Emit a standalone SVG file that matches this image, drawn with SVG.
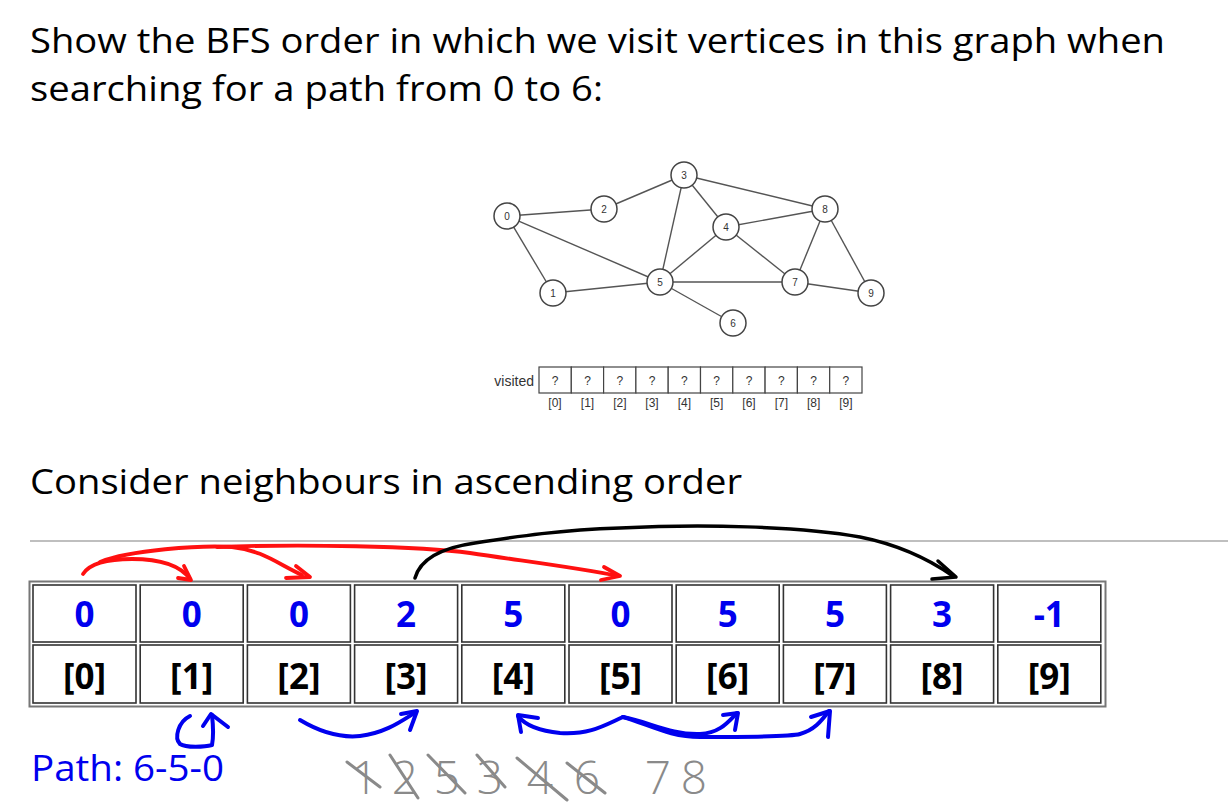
<svg xmlns="http://www.w3.org/2000/svg" width="1228" height="810" viewBox="0 0 1228 810">
<style>
.h{font-family:"Open Sans","Noto Sans","Liberation Sans",sans-serif;font-size:35px;fill:#000}
.edge{stroke:#555;stroke-width:1.4;fill:none}
.node circle{fill:#fff;stroke:#444;stroke-width:1.5}
.node text{font-family:"Liberation Sans",Arial,sans-serif;font-size:10px;fill:#333;text-anchor:middle}
.vis{font-family:"Liberation Sans",Arial,sans-serif;fill:#333}
.vc{fill:#fff;stroke:#444;stroke-width:1.2}
.cell{fill:#fff;stroke:#333;stroke-width:1.6}
.val{font-family:"Noto Sans","Open Sans","Liberation Sans",sans-serif;font-weight:bold;font-size:35px;fill:#0000ee;text-anchor:middle}
.idx{font-family:"Noto Sans","Open Sans","Liberation Sans",sans-serif;font-weight:bold;font-size:35px;fill:#000;text-anchor:middle}
.red{stroke:#ff1010;stroke-width:3.8;fill:none;stroke-linecap:round;stroke-linejoin:round}
.blk{stroke:#000;stroke-width:3.5;fill:none;stroke-linecap:round;stroke-linejoin:round}
.blu{stroke:#0000ee;stroke-width:4;fill:none;stroke-linecap:round;stroke-linejoin:round}
.scr{font-family:"Open Sans","DejaVu Sans",sans-serif;font-weight:300;font-size:46px;fill:#8a8a8a;text-anchor:middle}
.strk{stroke:#8a8a8a;stroke-width:3;stroke-linecap:round;fill:none}
</style>
<rect width="1228" height="810" fill="#fff"/>

<text class="h" x="30" y="53" textLength="1135" lengthAdjust="spacingAndGlyphs">Show the BFS order in which we visit vertices in this graph when</text>
<text class="h" x="30" y="101" textLength="573" lengthAdjust="spacingAndGlyphs">searching for a path from 0 to 6:</text>

<g id="graph-edges">
<line class="edge" x1="507" y1="216" x2="604" y2="209"/>
<line class="edge" x1="507" y1="216" x2="553" y2="293"/>
<line class="edge" x1="507" y1="216" x2="660" y2="282"/>
<line class="edge" x1="604" y1="209" x2="684" y2="175"/>
<line class="edge" x1="684" y1="175" x2="660" y2="282"/>
<line class="edge" x1="684" y1="175" x2="726" y2="227"/>
<line class="edge" x1="684" y1="175" x2="825" y2="209"/>
<line class="edge" x1="726" y1="227" x2="825" y2="209"/>
<line class="edge" x1="726" y1="227" x2="660" y2="282"/>
<line class="edge" x1="726" y1="227" x2="795" y2="282"/>
<line class="edge" x1="825" y1="209" x2="795" y2="282"/>
<line class="edge" x1="825" y1="209" x2="871" y2="293"/>
<line class="edge" x1="553" y1="293" x2="660" y2="282"/>
<line class="edge" x1="660" y1="282" x2="795" y2="282"/>
<line class="edge" x1="660" y1="282" x2="733" y2="323"/>
<line class="edge" x1="795" y1="282" x2="871" y2="293"/>
</g>
<g id="n0" class="node"><circle cx="507" cy="216" r="13"/><text x="507" y="220">0</text></g>
<g id="n1" class="node"><circle cx="553" cy="293" r="13"/><text x="553" y="297">1</text></g>
<g id="n2" class="node"><circle cx="604" cy="209" r="13"/><text x="604" y="213">2</text></g>
<g id="n3" class="node"><circle cx="684" cy="175" r="13"/><text x="684" y="179">3</text></g>
<g id="n4" class="node"><circle cx="726" cy="227" r="13"/><text x="726" y="231">4</text></g>
<g id="n5" class="node"><circle cx="660" cy="282" r="13"/><text x="660" y="286">5</text></g>
<g id="n6" class="node"><circle cx="733" cy="323" r="13"/><text x="733" y="327">6</text></g>
<g id="n7" class="node"><circle cx="795" cy="282" r="13"/><text x="795" y="286">7</text></g>
<g id="n8" class="node"><circle cx="825" cy="209" r="13"/><text x="825" y="213">8</text></g>
<g id="n9" class="node"><circle cx="871" cy="293" r="13"/><text x="871" y="297">9</text></g>

<g id="visited">
<text class="vis" x="534" y="386" font-size="14" text-anchor="end">visited</text>
<rect class="vc" x="539" y="367" width="32.3" height="26"/>
<rect class="vc" x="571.3" y="367" width="32.3" height="26"/>
<rect class="vc" x="603.6" y="367" width="32.3" height="26"/>
<rect class="vc" x="635.9" y="367" width="32.3" height="26"/>
<rect class="vc" x="668.2" y="367" width="32.3" height="26"/>
<rect class="vc" x="700.5" y="367" width="32.3" height="26"/>
<rect class="vc" x="732.8" y="367" width="32.3" height="26"/>
<rect class="vc" x="765.1" y="367" width="32.3" height="26"/>
<rect class="vc" x="797.4" y="367" width="32.3" height="26"/>
<rect class="vc" x="829.7" y="367" width="32.3" height="26"/>
<g font-size="12" text-anchor="middle">
<text class="vis" x="555" y="385">?</text><text class="vis" x="587.5" y="385">?</text><text class="vis" x="619.8" y="385">?</text><text class="vis" x="652" y="385">?</text><text class="vis" x="684.3" y="385">?</text><text class="vis" x="716.6" y="385">?</text><text class="vis" x="749" y="385">?</text><text class="vis" x="781.3" y="385">?</text><text class="vis" x="813.6" y="385">?</text><text class="vis" x="845.9" y="385">?</text>
</g>
<g font-size="12" text-anchor="middle">
<text class="vis" x="555" y="407">[0]</text><text class="vis" x="587.5" y="407">[1]</text><text class="vis" x="619.8" y="407">[2]</text><text class="vis" x="652" y="407">[3]</text><text class="vis" x="684.3" y="407">[4]</text><text class="vis" x="716.6" y="407">[5]</text><text class="vis" x="749" y="407">[6]</text><text class="vis" x="781.3" y="407">[7]</text><text class="vis" x="813.6" y="407">[8]</text><text class="vis" x="845.9" y="407">[9]</text>
</g>
</g>

<text class="h" x="30" y="494" textLength="712" lengthAdjust="spacingAndGlyphs">Consider neighbours in ascending order</text>
<line x1="30" y1="541" x2="1228" y2="541" stroke="#aaa" stroke-width="1.5"/>

<g id="table">
<rect x="29.5" y="581.5" width="1076" height="125" fill="#fff" stroke="#777" stroke-width="2"/>
<g id="row-values">
<rect class="cell" x="33" y="585" width="103" height="57"/>
<rect class="cell" x="140.2" y="585" width="103" height="57"/>
<rect class="cell" x="247.4" y="585" width="103" height="57"/>
<rect class="cell" x="354.6" y="585" width="103" height="57"/>
<rect class="cell" x="461.8" y="585" width="103" height="57"/>
<rect class="cell" x="569" y="585" width="103" height="57"/>
<rect class="cell" x="676.2" y="585" width="103" height="57"/>
<rect class="cell" x="783.4" y="585" width="103" height="57"/>
<rect class="cell" x="890.6" y="585" width="103" height="57"/>
<rect class="cell" x="997.8" y="585" width="103" height="57"/>
<text class="val" x="84.5" y="627">0</text>
<text class="val" x="191.7" y="627">0</text>
<text class="val" x="298.9" y="627">0</text>
<text class="val" x="406.1" y="627">2</text>
<text class="val" x="513.3" y="627">5</text>
<text class="val" x="620.5" y="627">0</text>
<text class="val" x="727.7" y="627">5</text>
<text class="val" x="834.9" y="627">5</text>
<text class="val" x="942.1" y="627">3</text>
<text class="val" x="1049.3" y="627">-1</text>
</g>
<g id="row-index">
<rect class="cell" x="33" y="645" width="103" height="58"/>
<rect class="cell" x="140.2" y="645" width="103" height="58"/>
<rect class="cell" x="247.4" y="645" width="103" height="58"/>
<rect class="cell" x="354.6" y="645" width="103" height="58"/>
<rect class="cell" x="461.8" y="645" width="103" height="58"/>
<rect class="cell" x="569" y="645" width="103" height="58"/>
<rect class="cell" x="676.2" y="645" width="103" height="58"/>
<rect class="cell" x="783.4" y="645" width="103" height="58"/>
<rect class="cell" x="890.6" y="645" width="103" height="58"/>
<rect class="cell" x="997.8" y="645" width="103" height="58"/>
<text class="idx" x="84.5" y="689">[0]</text>
<text class="idx" x="191.7" y="689">[1]</text>
<text class="idx" x="298.9" y="689">[2]</text>
<text class="idx" x="406.1" y="689">[3]</text>
<text class="idx" x="513.3" y="689">[4]</text>
<text class="idx" x="620.5" y="689">[5]</text>
<text class="idx" x="727.7" y="689">[6]</text>
<text class="idx" x="834.9" y="689">[7]</text>
<text class="idx" x="942.1" y="689">[8]</text>
<text class="idx" x="1049.3" y="689">[9]</text>
</g>
</g>

<g id="connectors">
<path class="red" d="M83,574 C90,563 110,559 132,559 C160,559 180,565 190,579"/>
<path class="red" d="M184,566 L191,580 L178,578"/>
<path class="red" d="M100,562 C130,550 200,545 232,547 C262,550 278,564 302,575"/>
<path class="red" d="M296,566 L310,577 L286,578"/>
<path class="red" d="M217,547 C300,544 420,546 470,553 C530,562 580,568 618,576"/>
<path class="red" d="M604,567 L620,576 L601,580"/>
<path class="blk" d="M415,578 C420,560 440,548 475,543 C520,536 560,530 620,528 C700,524 800,526 860,537 C900,545 930,560 953,576"/>
<path class="blk" d="M938,561 L956,577 L932,579"/>
<path class="blu" d="M190,716 C178,722 174,738 180,744 C186,748 205,747 212,745 C214,735 213,724 212,715"/>
<path class="blu" d="M203,726 L211,714 L228,727"/>
<path class="blu" d="M300,720 C320,732 340,738 360,736 C385,733 400,722 416,712"/>
<path class="blu" d="M401,714 L417,711 L410,730"/>
<path class="blu" d="M623,717 C605,725 590,735 560,733 C540,731 525,725 518,716"/>
<path class="blu" d="M538,718 L518,715 L521,732"/>
<path class="blu" d="M623,717 C650,722 670,735 700,734 C720,733 728,722 737,713"/>
<path class="blu" d="M723,715 L738,713 L735,730"/>
<path class="blu" d="M623,717 C650,725 670,737 700,737 C740,737 790,737 800,734 C815,730 822,720 829,711"/>
<path class="blu" d="M811,717 L830,711 L828,737"/>
</g>

<text x="31" y="781" font-family="Open Sans,Noto Sans,Liberation Sans,sans-serif" font-size="36" fill="#0000ee" textLength="193" lengthAdjust="spacingAndGlyphs">Path: 6-5-0</text>

<g id="scribble">
<text class="scr" x="365" y="794">1</text>
<text class="scr" x="405" y="794">2</text>
<text class="scr" x="447" y="794">5</text>
<text class="scr" x="490" y="794">3</text>
<text class="scr" x="540" y="794">4</text>
<text class="scr" x="587" y="794">6</text>
<text class="scr" x="658" y="794">7</text>
<text class="scr" x="694" y="794">8</text>
<path class="strk" d="M347,762 L380,787"/>
<path class="strk" d="M390,755 L418,798"/>
<path class="strk" d="M428,755 L465,793"/>
<path class="strk" d="M477,755 L505,787"/>
<path class="strk" d="M517,758 L567,800"/>
<path class="strk" d="M567,763 L605,793"/>
</g>
</svg>
